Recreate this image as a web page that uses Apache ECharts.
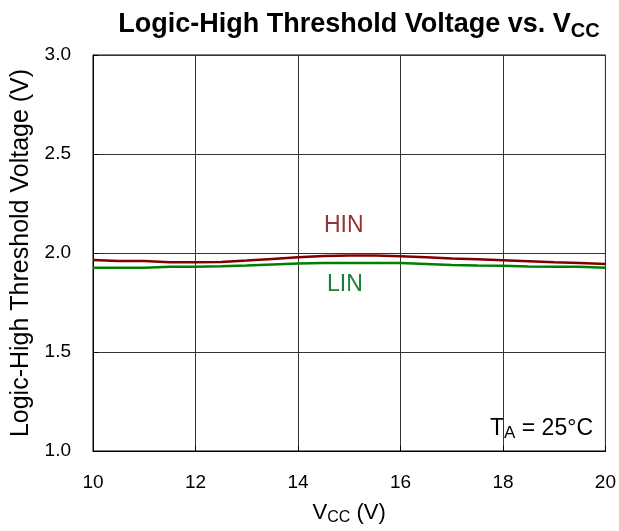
<!DOCTYPE html>
<html>
<head>
<meta charset="utf-8">
<script src="https://cdn.jsdelivr.net/npm/echarts@6/dist/echarts.min.js"></script>
<style>
  html, body { margin: 0; padding: 0; background: #fff; }
  #chart { width: 619px; height: 531px; }
</style>
</head>
<body>
<div id="chart"></div>
<script>
// VCC (V)
const vcc = [10, 10.5, 11, 11.5, 12, 12.5, 13, 13.5, 14, 14.5, 15, 15.5, 16, 16.5, 17, 17.5, 18, 18.5, 19, 19.5, 20];
// seuils logiques (V)
const hin = [1.965, 1.96, 1.96, 1.953, 1.953, 1.955, 1.962, 1.97, 1.978, 1.985, 1.987, 1.987, 1.984, 1.978, 1.972, 1.968, 1.963, 1.958, 1.953, 1.95, 1.945];
const lin = [1.925, 1.925, 1.925, 1.93, 1.93, 1.933, 1.937, 1.942, 1.947, 1.95, 1.95, 1.95, 1.95, 1.945, 1.94, 1.937, 1.935, 1.932, 1.93, 1.93, 1.925];

const font = "Liberation Sans, Arial, sans-serif";
const chart = echarts.init(document.getElementById("chart"));

const pair = (ys) => vcc.map((x, i) => [x, ys[i]]);

chart.setOption({
  animation: false,
  title: {
    text: "Logic-High Threshold Voltage vs. V{s|CC}",
    left: 354,
    top: 4,
    textAlign: "center",
    textStyle: {
      fontFamily: font,
      fontSize: 27,
      fontWeight: "bold",
      color: "#000",
      rich: {
        s: { fontFamily: font, fontSize: 20, fontWeight: "bold", verticalAlign: "bottom", padding: [12, 0, 0, 0] },
      },
    },
  },
  grid: { left: 93, right: 12, top: 55, bottom: 75, show: true, borderColor: "#000", borderWidth: 1 },
  xAxis: {
    type: "value",
    min: 10,
    max: 20,
    interval: 2,
    name: "V{s|CC} (V)",
    nameLocation: "middle",
    nameGap: 49,
    nameTextStyle: {
      fontFamily: font,
      fontSize: 22,
      color: "#000",
      rich: { s: { fontFamily: font, fontSize: 16, verticalAlign: "bottom", padding: [10, 0, 0, 0] } },
    },
    axisLine: { show: true, lineStyle: { color: "#000" } },
    axisTick: { show: true, inside: true, length: 5, lineStyle: { color: "#000" } },
    axisLabel: { fontFamily: font, fontSize: 19, color: "#000", margin: 22 },
    splitLine: { show: true, lineStyle: { color: "#333", width: 1 } },
  },
  yAxis: {
    type: "value",
    min: 1.0,
    max: 3.0,
    interval: 0.5,
    name: "Logic-High Threshold Voltage (V)",
    nameLocation: "middle",
    nameGap: 59,
    nameTextStyle: { fontFamily: font, fontSize: 25, color: "#000" },
    axisLine: { show: true, lineStyle: { color: "#000" } },
    axisTick: { show: true, inside: true, length: 5, lineStyle: { color: "#000" } },
    axisLabel: { fontFamily: font, fontSize: 19, color: "#000", margin: 22, formatter: (v) => v.toFixed(1) },
    splitLine: { show: true, lineStyle: { color: "#333", width: 1 } },
  },
  series: [
    {
      name: "HIN",
      type: "line",
      data: pair(hin),
      showSymbol: false,
      smooth: false,
      lineStyle: { color: "#800000", width: 2.5 },
      z: 3,
    },
    {
      name: "LIN",
      type: "line",
      data: pair(lin),
      showSymbol: false,
      smooth: false,
      lineStyle: { color: "#008000", width: 2.5 },
      z: 3,
    },
  ],
  graphic: [
    {
      type: "text",
      left: 324,
      top: 214,
      style: { text: "HIN", fontFamily: font, fontSize: 23, fill: "#993333" },
    },
    {
      type: "text",
      left: 327,
      top: 273,
      style: { text: "LIN", fontFamily: font, fontSize: 23, fill: "#1a7f3a" },
    },
    {
      type: "text",
      left: 490,
      top: 417,
      style: {
        text: "T{s|A} = 25°C",
        fontFamily: font,
        fontSize: 23,
        fill: "#000",
        rich: { s: { fontFamily: font, fontSize: 17, verticalAlign: "bottom", padding: [10, 0, 0, 0] } },
      },
    },
  ],
});
</script>
</body>
</html>
